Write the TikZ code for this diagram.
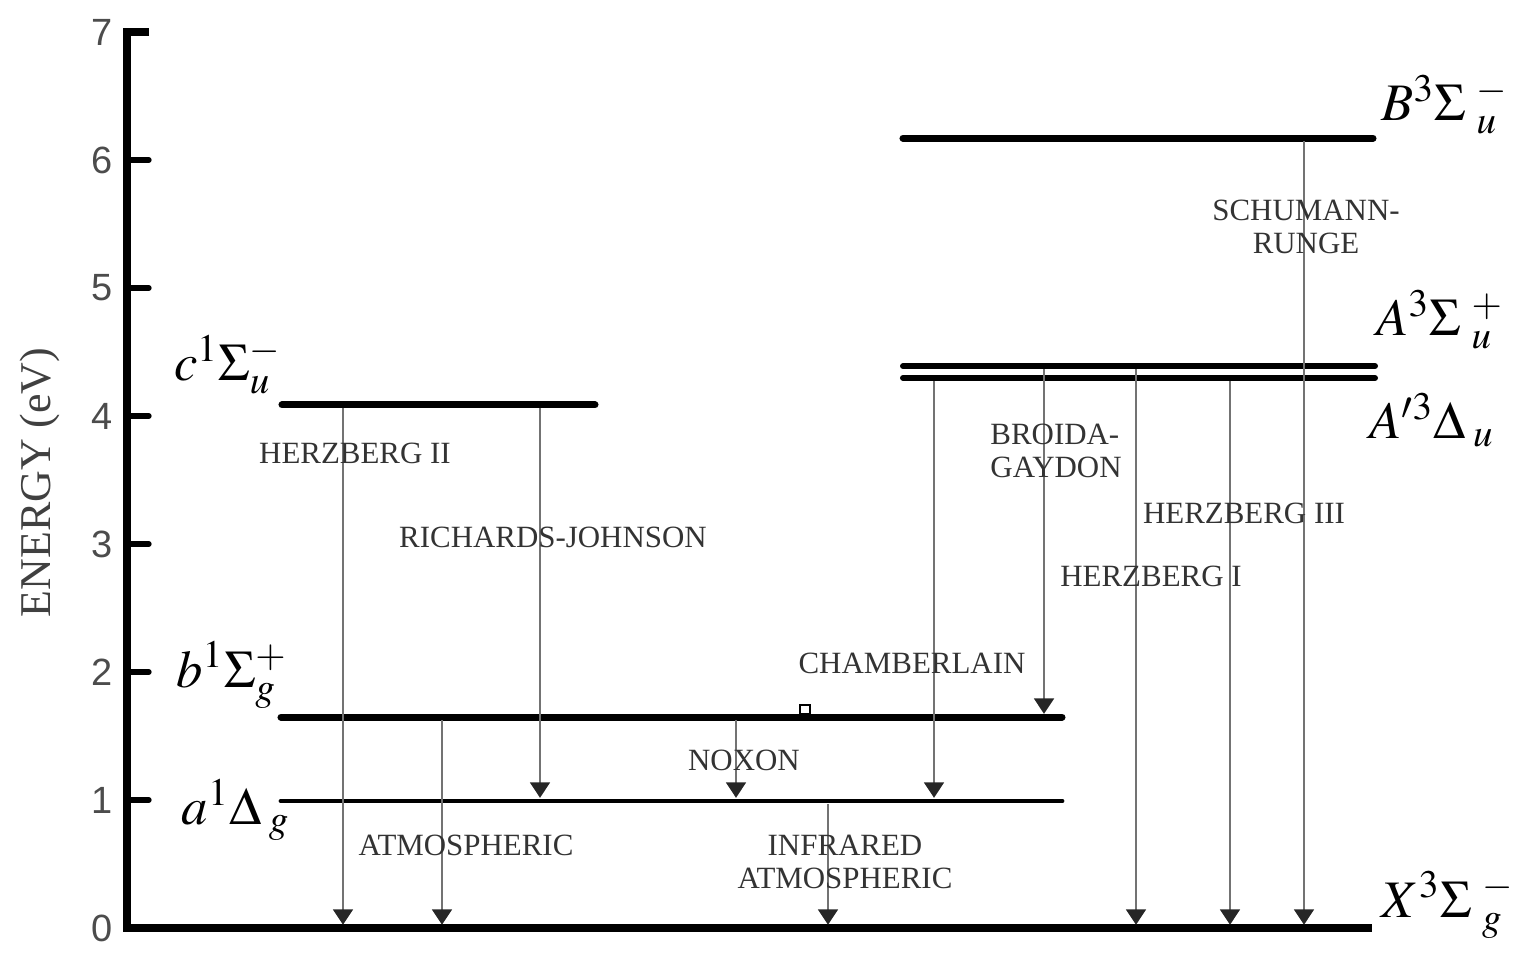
\documentclass[tikz,border=0pt]{standalone}
\usepackage{mathptmx}
\usepackage{fontspec}
\setmainfont{Liberation Serif}
\newfontfamily\numfont{Liberation Sans}
\usetikzlibrary{arrows.meta}
\begin{document}
\begin{tikzpicture}[x=1cm,y=1.28cm,
  statebar/.style={line width=2pt,line cap=round},
  transarrow/.style={black!55,line width=0.8pt,shorten >=0.9pt,shorten <=0.9pt,
    -{Triangle[width=5.6pt,length=4.4pt,color=black!85]}},
  bandlbl/.style={text=black!80,font=\fontsize{8.8}{9.6}\selectfont,align=center,inner sep=0pt},
  statelbl/.style={font=\fontsize{15}{16}\selectfont,inner sep=0pt},
  numlbl/.style={text=black!70,font=\numfont\fontsize{10.8}{11}\selectfont,anchor=east,inner sep=0pt}]
  \useasboundingbox (-1.27,-0.2422) rectangle (14.0,7.25);
  % axis and ticks
  \draw[line width=2.3pt,line join=miter] (0.22,7) -- (0,7) -- (0,0) -- (12.45,0);
  \foreach \e in {1,...,6}
    \draw[line width=1.5pt,line cap=round] (0,\e) -- (0.22,\e);
  \foreach \e in {0,...,7}
    \node[numlbl] (n\e) at (-0.14,\e) {\e};
  \node[rotate=90,text=black!75,font=\fontsize{12.5}{13}\selectfont] (ylbl) at (-0.87,3.48) {ENERGY (eV)};
  % levels
  \coordinate (X) at (0,0);
  \draw[statebar] (1.55,4.086) coordinate (c) -- (4.68,4.086);
  \draw[statebar] (1.54,1.648) coordinate (b) -- (9.35,1.648);
  \draw[statebar,line width=1.4pt] (1.54,0.992) coordinate (a) -- (9.35,0.992);
  \draw[statebar] (7.76,6.17) coordinate (B) -- (12.46,6.17);
  \draw[statebar,line width=1.7pt] (7.76,4.39) coordinate (A) -- (12.48,4.39);
  \draw[statebar,line width=1.7pt] (7.76,4.297) coordinate (Ap) -- (12.48,4.297);
  \draw[line width=0.5pt] (6.73,1.672) rectangle (6.83,1.742);
  % transitions
  \foreach \xx/\from/\to in {2.16/c/X, 4.13/c/a, 3.15/b/X, 6.09/b/a, 7.01/a/X,
      8.07/Ap/a, 9.17/A/b, 10.09/A/X, 11.03/Ap/X, 11.77/B/X}
    \draw[transarrow] (\xx,0 |- \from) -- (\xx,0 |- \to);
  % state labels
  \node[statelbl] (cl) at (1.01,4.40) {$c^{1}\Sigma_{u}^{-}$};
  \node[statelbl] (bl) at (1.05,1.977) {$b^{1}\Sigma_{g}^{+}$};
  \node[statelbl] (al) at (1.09,0.92) {$a^{1}\Delta_{\hspace{2pt}g}$};
  \node[statelbl] (Bl) at (13.18,6.43) {$B^{3}\Sigma^{\hspace{3pt}-}_{\hspace{3pt}u}$};
  \node[statelbl] (Al) at (13.13,4.75) {$A^{3}\Sigma^{\hspace{3pt}+}_{\hspace{3pt}u}$};
  \node[statelbl] (Apl) at (13.05,3.97) {$A'^{3}\Delta_{\hspace{2pt}u}$};
  \node[statelbl] (Xl) at (13.21,0.18) {$X^{3}\Sigma^{\hspace{3pt}-}_{\hspace{3pt}g}$};
  % band labels
  \node[bandlbl] (hz2) at (2.28,3.71) {HERZBERG II};
  \node[bandlbl] (rj) at (4.26,3.05) {RICHARDS-JOHNSON};
  \node[bandlbl] (atm) at (3.39,0.648) {ATMOSPHERIC};
  \node[bandlbl] (nox) at (6.17,1.3125) {NOXON};
  \node[bandlbl] (cham) at (7.85,2.07) {CHAMBERLAIN};
  \node[bandlbl] (ir) at (7.18,0.516) {INFRARED\\ATMOSPHERIC};
  \node[bandlbl,align=left] (bg) at (9.29,3.727) {BROIDA-\\GAYDON};
  \node[bandlbl] (hz3) at (11.17,3.242) {HERZBERG III};
  \node[bandlbl] (hz1) at (10.24,2.75) {HERZBERG I};
  \node[bandlbl] (sr) at (11.79,5.477) {SCHUMANN-\\RUNGE};
\end{tikzpicture}
\end{document}
